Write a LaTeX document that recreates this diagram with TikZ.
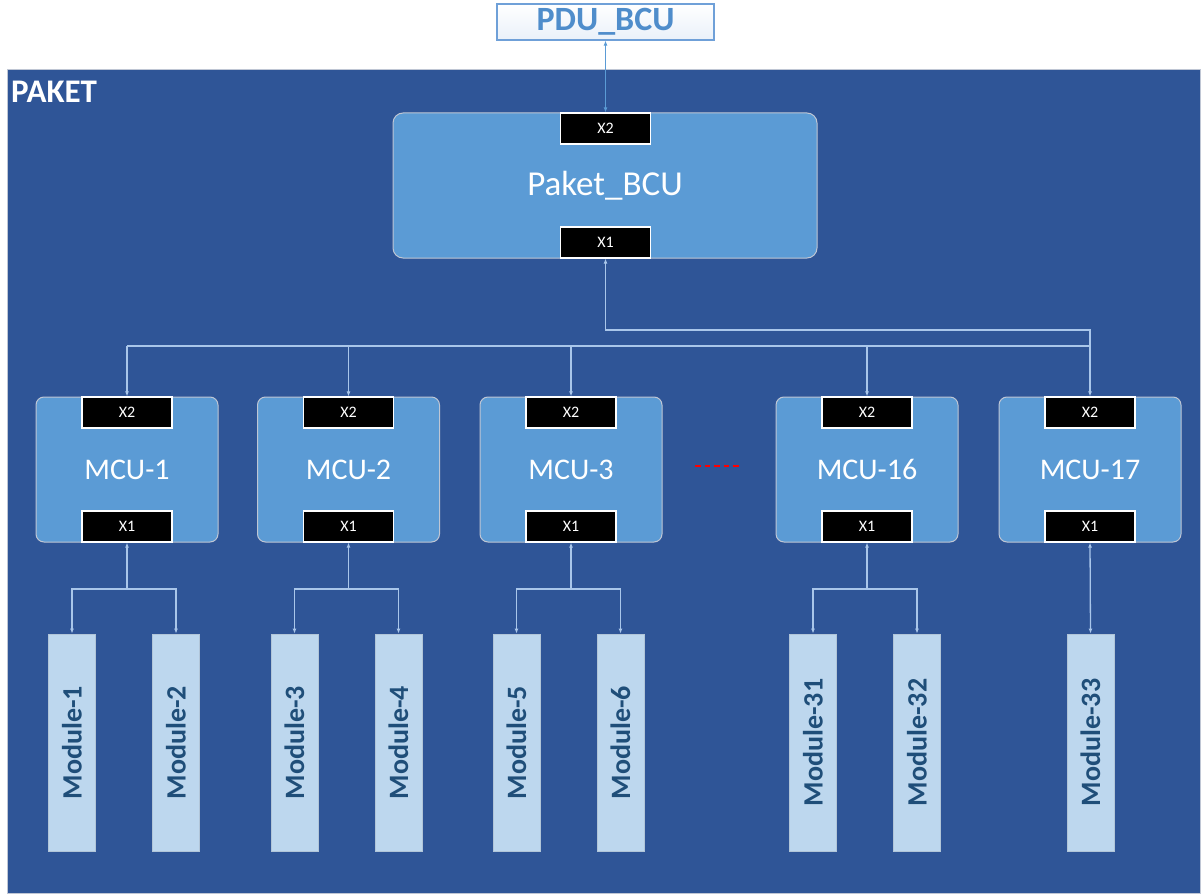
\documentclass[tikz,border=0pt]{standalone}
\usepackage{fontspec}
\setmainfont{Carlito}
\usetikzlibrary{arrows.meta,calc}
\definecolor{paketbg}{HTML}{2F5597}
\definecolor{unitfill}{HTML}{5B9BD5}
\definecolor{modfill}{HTML}{BDD7EE}
\definecolor{modtext}{HTML}{1F4E79}
\definecolor{pdutext}{HTML}{4F8DCB}
\definecolor{pduborder}{HTML}{6FA0D8}
\definecolor{connclr}{HTML}{A9C6EA}
\definecolor{edgegray}{HTML}{BFC6D4}
\tikzset{
  unitbox/.style={draw=edgegray, line width=1pt, fill=unitfill, rounded corners=8pt,
    inner sep=0pt, text=white},
  mcubox/.style={unitbox, minimum width=182pt, minimum height=145pt,
    font=\fontsize{30}{32}\selectfont},
  port/.style={draw=white, line width=1.2pt, fill=black, text=white, inner sep=0pt,
    minimum width=90pt, minimum height=31pt, font=\fontsize{16}{18}\selectfont},
  modbox/.style={draw=modfill!80!gray, line width=0.8pt, fill=modfill, inner sep=0pt,
    minimum width=47pt, minimum height=217pt, text=modtext,
    font=\bfseries\fontsize{28}{30}\selectfont},
  conn/.style={draw=connclr, line width=1.3pt,
    arrows={-}, >={Latex[length=5pt,width=4pt]}},
}
\begin{document}
\begin{tikzpicture}[x=1pt,y=-1pt]
\useasboundingbox (0,0) rectangle (1202,896);
\fill[white] (0,0) rectangle (1202,896);

% outer package area
\node[draw=edgegray, line width=1pt, fill=paketbg, inner sep=0pt, anchor=north west,
  minimum width=1193pt, minimum height=824pt] (paket) at (7,69) {};
\node[anchor=base west, inner sep=0pt, text=white, font=\bfseries\fontsize{33}{35}\selectfont]
  (paketlbl) at (11,103) {PAKET};

% PDU on top
\node[draw=pduborder, line width=1.2pt, top color=white, bottom color=pduborder!15,
  minimum width=217pt, minimum height=36pt, inner sep=0pt, text=pdutext,
  font=\bfseries\fontsize{34}{36}\selectfont] (pdu) at (605.5,22) {PDU\_BCU};

% package BCU
\node[unitbox, minimum width=424pt, minimum height=145pt, rounded corners=10pt,
  font=\fontsize{35}{37}\selectfont] (bcu) at (605,185.5) {Paket\_BCU};
\node[port] (bcux2) at (605.5,128.5) {X2};
\node[port] (bcux1) at (605.5,242.5) {X1};

\draw[conn, draw=unitfill, <->] (pdu.south) -- (bcux2.north);

% MCUs with their ports
\foreach \n/\x/\t in {1/127/MCU-1, 2/348.5/MCU-2, 3/571/MCU-3, 16/867/MCU-16, 17/1090/MCU-17}{
  \node[mcubox] (mcu\n) at (\x,469.5) {\t};
  \node[port] (mcu\n x2) at (\x,412.5) {X2};
  \node[port] (mcu\n x1) at (\x,526.5) {X1};
}

% red dots between MCU-3 and MCU-16
\coordinate (gapA) at (695,466);
\coordinate (gapB) at (740,466);
\draw[red, line width=2.6pt, dash pattern=on 5.5pt off 4pt] (gapA) -- (gapB);

% BCU to MCU bus
\coordinate (busup) at (605.5,330);
\coordinate (busrow) at (0,346);
\draw[conn, <->] (bcux1.south) -- (busup) -| (mcu17x2.north);
\draw[conn] (mcu1x2.north |- busrow) -- (mcu17x2.north |- busrow);
\foreach \n in {1,2,3,16}{
  \draw[conn, ->] (mcu\n x2.north |- busrow) -- (mcu\n x2.north);
}

% modules
\foreach \m/\x in {1/72, 2/176, 3/294.5, 4/398.5, 5/516.5, 6/620.5, 31/813, 32/917, 33/1090.5}{
  \node[modbox] (mod\m) at (\x,742.5) {\rotatebox{90}{Module-\m}};
}

% MCU to module branches
\coordinate (modrow) at (0,589);
\foreach \n/\a/\b in {1/1/2, 2/3/4, 3/5/6, 16/31/32}{
  \coordinate (j\n) at (mcu\n x1.south |- modrow);
  \draw[conn, <-] (mcu\n x1.south) -- (j\n);
  \draw[conn, ->] (j\n) -| (mod\a.north);
  \draw[conn, ->] (j\n) -| (mod\b.north);
}
\draw[conn, <->] (mcu17x1.south) -- (mod33.north);
\end{tikzpicture}
\end{document}
